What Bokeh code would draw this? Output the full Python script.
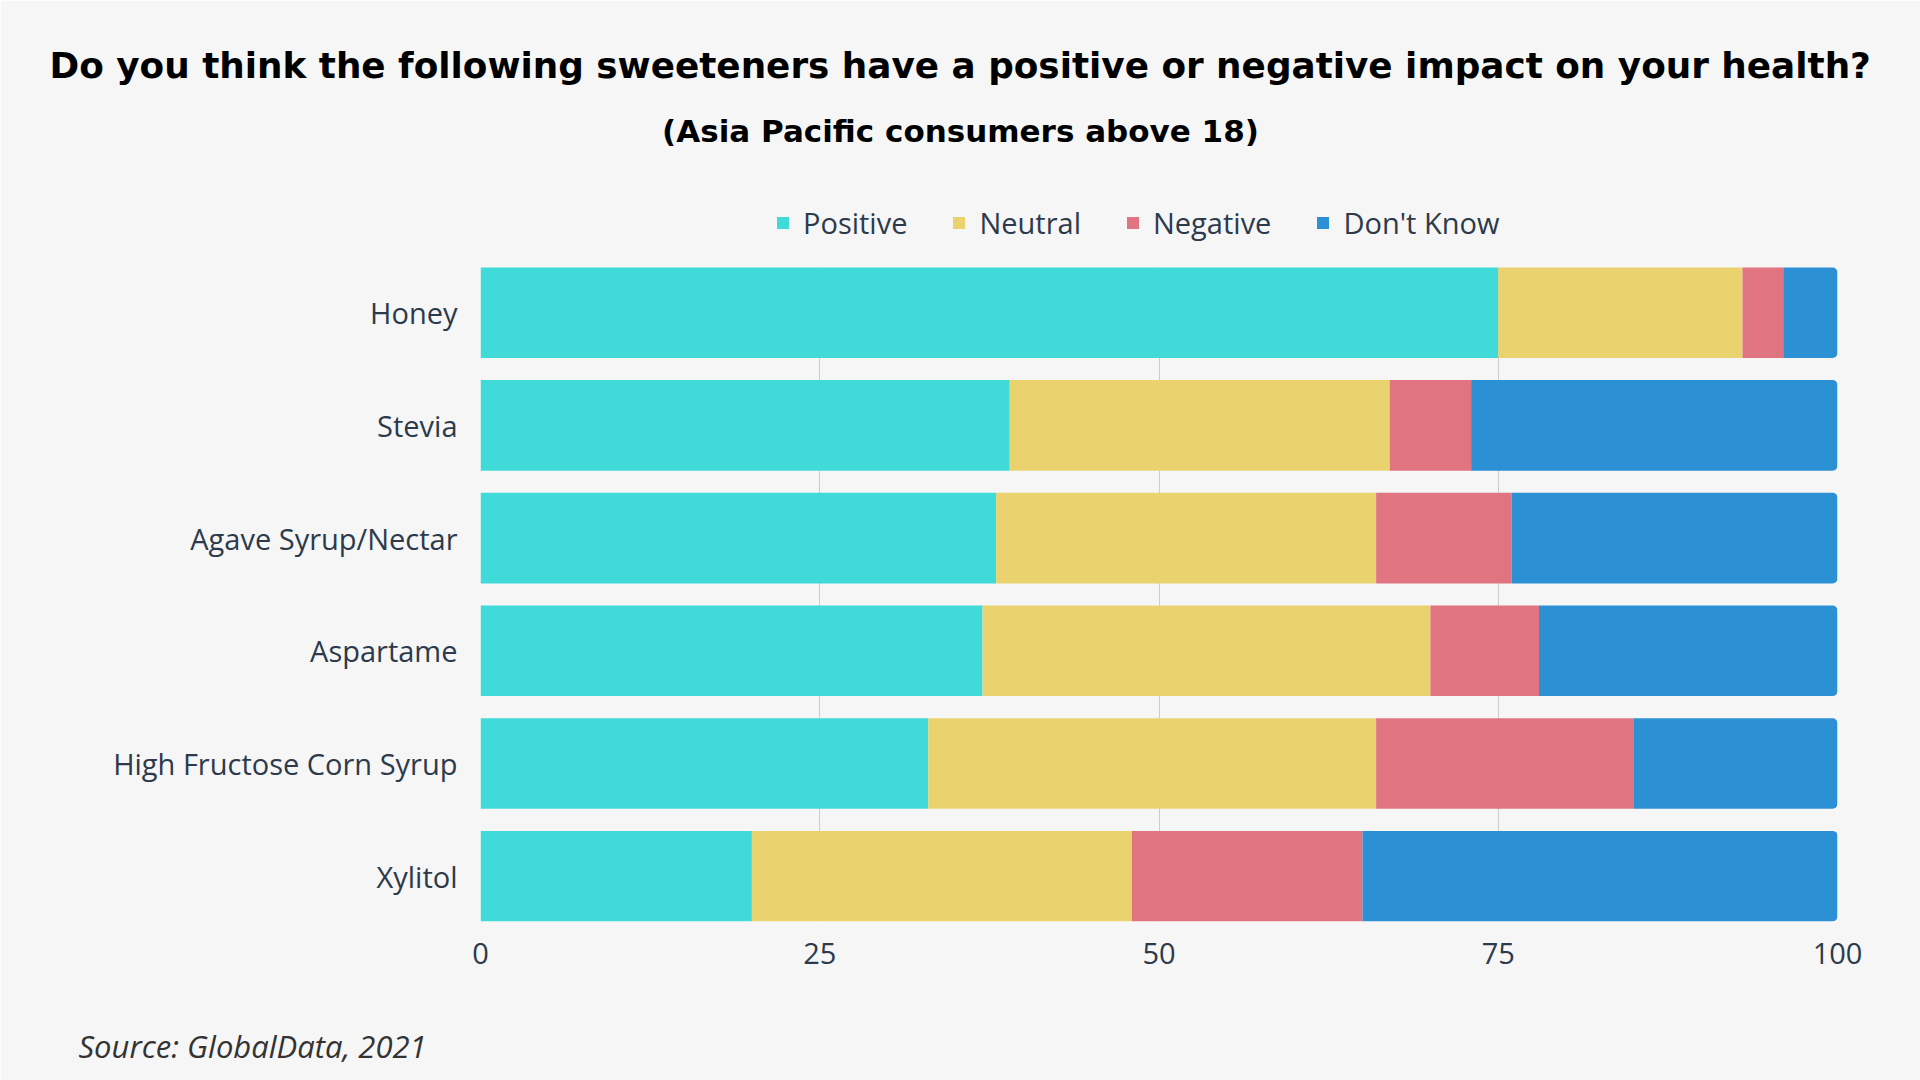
from bokeh.plotting import figure
from bokeh.models import (Range1d, FixedTicker, Legend, LegendItem, Title, Label, LinearAxis)
from bokeh.embed import file_html
from bokeh.resources import INLINE

# ---- data ----
sweeteners = ["Honey", "Stevia", "Agave Syrup/Nectar", "Aspartame",
              "High Fructose Corn Syrup", "Xylitol"]
positive = [75, 39, 38, 37, 33, 20]
neutral = [18, 28, 28, 33, 33, 28]
negative = [3, 6, 10, 8, 19, 17]
dont_know = [4, 27, 24, 22, 15, 35]
series_names = ["Positive", "Neutral", "Negative", "Don't Know"]
series_keys = ["positive", "neutral", "negative", "dont_know"]
series_colors = ["#40dad8", "#ead36f", "#e07581", "#2c90d5"]
x_ticks = [0, 25, 50, 75, 100]

title_text = "Do you think the following sweeteners have a positive or negative impact on your health?"
subtitle_text = "(Asia Pacific consumers above 18)"
source_text = "Source: GlobalData, 2021"

BG = "#f6f6f6"
TXT = "#2c3a4b"

# category rows: first category on top
n = len(sweeteners)
row_pos = [n - 1 - i for i in range(n)]
data = dict(row=row_pos, sweetener=sweeteners, positive=positive, neutral=neutral,
            negative=negative, dont_know=dont_know)

BAR_H = 0.804
TOP_ROOM = 1.570   # empty room above the first bar (holds subtitle + legend)
p = figure(width=1920, height=1080, output_backend="svg", toolbar_location=None,
           y_range=Range1d(-BAR_H / 2, n - 1 + BAR_H / 2 + TOP_ROOM),
           x_range=Range1d(0, 100),
           min_border_left=480, min_border_right=83,
           min_border_top=90, min_border_bottom=159)
p.background_fill_color = BG
p.border_fill_color = BG
p.outline_line_color = None

renderers = p.hbar_stack(series_keys, y="row", height=BAR_H,
                         color=series_colors, line_color=None, source=data)
renderers[-1].glyph.border_radius = (0, 5, 5, 0)

p.xaxis.ticker = FixedTicker(ticks=x_ticks)
p.yaxis.ticker = FixedTicker(ticks=row_pos)
p.yaxis.major_label_overrides = {r: s for r, s in zip(row_pos, sweeteners)}
for ax in (p.xaxis[0], p.yaxis[0]):
    ax.axis_line_color = None
    ax.major_tick_line_color = None
    ax.minor_tick_line_color = None
    ax.major_tick_out = 0
    ax.major_tick_in = 0
    ax.major_label_text_font = "Open Sans"
    ax.major_label_text_font_size = "29px"
    ax.major_label_text_color = TXT
p.xaxis.major_label_standoff = 21
p.yaxis.major_label_standoff = 23

p.xgrid.grid_line_color = "#cccccc"
p.xgrid.grid_line_width = 1
p.xgrid.cross_bounds = (-BAR_H / 2, n - 1 + BAR_H / 2)
p.ygrid.grid_line_color = None

items = [LegendItem(label=s, renderers=[r]) for s, r in zip(series_names, renderers)]
legend = Legend(items=items, orientation="horizontal", location=(295, 679),
                glyph_width=15, glyph_height=15, label_standoff=13, spacing=44,
                padding=0, margin=0, border_line_color=None,
                background_fill_alpha=0,
                label_text_font="Open Sans", label_text_font_size="29px",
                label_text_color=TXT)
p.add_layout(legend, "center")

# subtitle (inside the empty top room of the frame; screen units from frame's bottom-left)
p.add_layout(Label(x=480, y=791, x_units="screen", y_units="screen",
                   text=subtitle_text, text_align="center", text_baseline="middle",
                   text_font="DejaVu Sans", text_font_style="bold",
                   text_font_size="31px", text_color="#000000"))

p.title.text = title_text
p.title.align = "left"
p.title.offset = -431
p.title.text_font = "DejaVu Sans"
p.title.text_font_style = "bold"
p.title.text_font_size = "35.8px"
p.title.text_color = "#000000"
p.title.standoff = 10

# blank gap between the tick labels and the source line (invisible tick)
gap_axis = LinearAxis(ticker=FixedTicker(ticks=[0]), axis_line_color=None,
                      major_tick_line_color=None, minor_tick_line_color=None,
                      major_tick_in=0, major_tick_out=46, minor_tick_out=0,
                      major_label_standoff=0, major_label_text_font_size="1px",
                      major_label_overrides={0: ""})
p.add_layout(gap_axis, "below")

p.add_layout(Title(text=source_text, align="left", offset=-402,
                   text_font="Open Sans", text_font_style="italic",
                   text_font_size="31px", text_color="#333333", standoff=20), "below")

open("out.html", "w").write(file_html(p, INLINE))
